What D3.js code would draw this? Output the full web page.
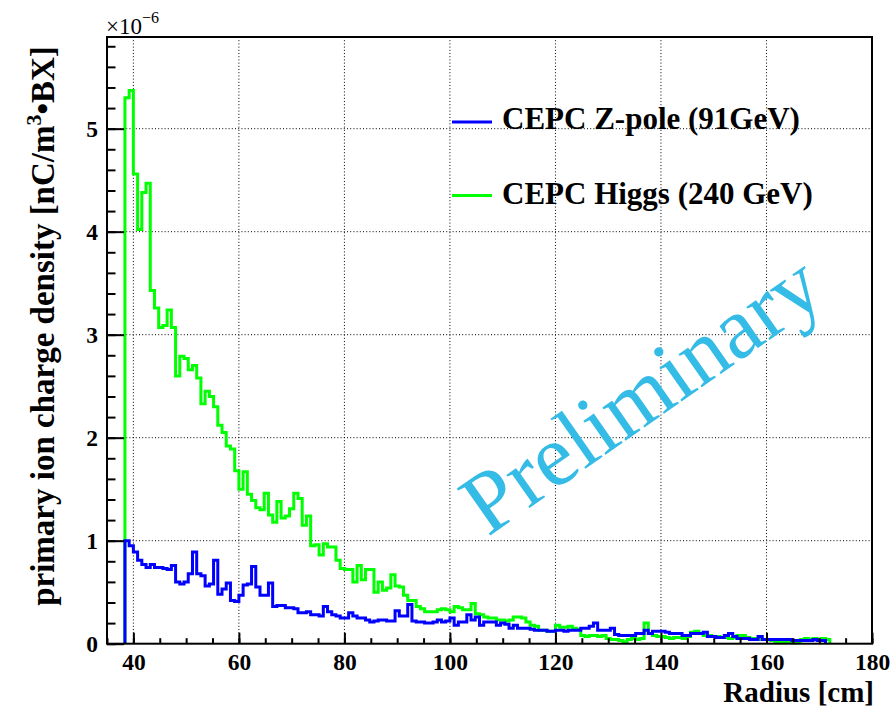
<!DOCTYPE html>
<html>
<head>
<meta charset="utf-8">
<script src="https://cdn.jsdelivr.net/npm/d3@7"></script>
<style>
  html, body { margin: 0; padding: 0; background: #fff; }
  svg { display: block; }
</style>
</head>
<body>
<svg id="chart" width="896" height="708"></svg>
<script>
// Histogram binning along the radius (cm)
const binStart = 38.4;
const binWidth = 0.8;

// Primary ion charge density per bin, in units of 1e-6 nC/m^3/BX
const zpole = [
  1.00,0.95,0.89,0.81,0.77,0.74,0.77,0.74,0.74,0.73,
  0.72,0.76,0.60,0.58,0.60,0.68,0.89,0.68,0.66,0.56,
  0.58,0.81,0.48,0.53,0.59,0.42,0.41,0.47,0.57,0.58,
  0.75,0.55,0.47,0.47,0.59,0.36,0.37,0.37,0.35,0.35,
  0.34,0.30,0.30,0.31,0.28,0.28,0.27,0.36,0.31,0.28,
  0.27,0.25,0.25,0.30,0.27,0.25,0.25,0.23,0.21,0.22,
  0.23,0.23,0.22,0.22,0.32,0.27,0.27,0.38,0.22,0.21,
  0.21,0.20,0.20,0.21,0.23,0.21,0.22,0.25,0.18,0.21,
  0.21,0.28,0.23,0.26,0.18,0.21,0.21,0.21,0.18,0.20,
  0.19,0.15,0.18,0.15,0.15,0.15,0.14,0.13,0.13,0.13,
  0.12,0.12,0.13,0.13,0.12,0.13,0.13,0.13,0.15,0.15,
  0.17,0.20,0.13,0.13,0.13,0.15,0.09,0.08,0.08,0.08,
  0.08,0.10,0.10,0.13,0.10,0.12,0.12,0.12,0.11,0.10,
  0.10,0.10,0.08,0.08,0.10,0.10,0.10,0.11,0.07,0.07,
  0.06,0.06,0.08,0.10,0.07,0.05,0.05,0.05,0.04,0.04,
  0.07,0.04,0.04,0.04,0.04,0.04,0.04,0.04,0.03,0.03,
  0.03,0.03,0.03,0.04,0.03,0.03
];

const higgs = [
  5.30,5.37,4.56,4.02,4.38,4.47,3.43,3.26,3.07,3.09,
  3.24,3.07,2.60,2.79,2.77,2.66,2.70,2.58,2.33,2.45,
  2.40,2.30,2.12,2.05,1.92,1.89,1.68,1.50,1.67,1.45,
  1.39,1.32,1.30,1.46,1.25,1.18,1.38,1.22,1.24,1.31,
  1.46,1.41,1.15,1.24,0.95,0.96,0.86,0.97,0.94,0.94,
  0.81,0.73,0.72,0.72,0.60,0.76,0.62,0.72,0.72,0.50,
  0.60,0.52,0.54,0.67,0.56,0.55,0.47,0.42,0.42,0.36,
  0.34,0.31,0.31,0.31,0.33,0.34,0.33,0.31,0.36,0.35,
  0.33,0.33,0.39,0.29,0.28,0.26,0.25,0.25,0.23,0.23,
  0.22,0.23,0.26,0.26,0.25,0.21,0.18,0.17,0.13,0.13,
  0.12,0.12,0.18,0.16,0.16,0.17,0.15,0.14,0.08,0.07,
  0.08,0.08,0.07,0.08,0.05,0.04,0.04,0.03,0.02,0.04,
  0.05,0.04,0.05,0.20,0.10,0.08,0.07,0.07,0.06,0.05,
  0.06,0.06,0.05,0.07,0.11,0.12,0.10,0.08,0.08,0.07,
  0.07,0.06,0.06,0.05,0.06,0.08,0.08,0.06,0.05,0.05,
  0.04,0.04,0.04,0.03,0.02,0.02,0.02,0.02,0.01,0.02,
  0.04,0.05,0.04,0.05,0.04,0.05,0.04
];

const seriesNames  = ["CEPC Z-pole (91GeV)", "CEPC Higgs (240 GeV)"];
const seriesColors = ["#0000ff", "#00ff00"];

const xTicks = [40, 60, 80, 100, 120, 140, 160, 180];
const xMinorTicks = d3.range(35, 180.1, 5);
const yTicks = [0, 1, 2, 3, 4, 5];
const yMinorTicks = d3.range(0, 5.81, 0.2);

const xDomain = [35, 180];
const yDomain = [0, 5.89];

// Frame geometry
const frame = { left: 107, right: 872, top: 37, bottom: 643.7 };

const svg = d3.select("#chart");
const serif = "'Liberation Serif', 'Times New Roman', Times, serif";

const x = d3.scaleLinear().domain(xDomain).range([frame.left, frame.right]);
const y = d3.scaleLinear().domain(yDomain).range([frame.bottom, frame.top]);

// Dotted grid at major ticks
const grid = svg.append("g").attr("stroke", "#000").attr("stroke-width", 1)
  .attr("stroke-dasharray", "1,2.2");
grid.selectAll("line.gx").data(xTicks.filter(t => t > xDomain[0] && t < xDomain[1]))
  .join("line").attr("class", "gx")
  .attr("x1", d => x(d)).attr("x2", d => x(d))
  .attr("y1", frame.top).attr("y2", frame.bottom);
grid.selectAll("line.gy").data(yTicks.filter(t => t > 0))
  .join("line").attr("class", "gy")
  .attr("x1", frame.left).attr("x2", frame.right)
  .attr("y1", d => y(d)).attr("y2", d => y(d));

// Step outline for a histogram
function stepPoints(values) {
  const pts = [[binStart, 0]];
  values.forEach((v, i) => pts.push([binStart + i * binWidth, v]));
  pts.push([binStart + values.length * binWidth, 0]);
  return pts;
}
const line = d3.line().x(d => x(d[0])).y(d => y(d[1])).curve(d3.curveStepAfter);

const plot = svg.append("g").attr("fill", "none").attr("stroke-width", 3)
  .attr("stroke-linejoin", "miter");
plot.append("path").attr("d", line(stepPoints(higgs))).attr("stroke", seriesColors[1]);
plot.append("path").attr("d", line(stepPoints(zpole))).attr("stroke", seriesColors[0]);

// Axes with ticks pointing into the frame
svg.append("g").attr("transform", `translate(0,${frame.bottom})`)
  .call(d3.axisBottom(x).tickValues(xTicks).tickSize(-11).tickPadding(10));
svg.append("g").attr("transform", `translate(0,${frame.bottom})`)
  .call(d3.axisBottom(x).tickValues(xMinorTicks).tickSize(-5.5).tickFormat(""));
svg.append("g").attr("transform", `translate(${frame.left},0)`)
  .call(d3.axisLeft(y).tickValues(yTicks).tickSize(-17).tickPadding(9).tickFormat(d3.format("d")));
svg.append("g").attr("transform", `translate(${frame.left},0)`)
  .call(d3.axisLeft(y).tickValues(yMinorTicks).tickSize(-8.5).tickFormat(""));

svg.selectAll(".domain").remove();
svg.selectAll(".tick line").attr("stroke", "#000").attr("stroke-width", 2);
svg.selectAll(".tick text").attr("font-family", serif).attr("font-weight", "bold")
  .attr("font-size", 23.5).attr("fill", "#000");

// Frame
svg.append("rect")
  .attr("x", frame.left).attr("y", frame.top)
  .attr("width", frame.right - frame.left).attr("height", frame.bottom - frame.top)
  .attr("fill", "none").attr("stroke", "#000").attr("stroke-width", 2);

// Exponent of the y axis
const expo = svg.append("text").attr("x", frame.left - 1).attr("y", 34)
  .attr("font-family", serif).attr("font-size", 23).attr("fill", "#000");
expo.append("tspan").text("\u00d710");
expo.append("tspan").attr("dy", -11).attr("font-size", 16).text("\u22126");

// Axis titles
svg.append("text")
  .attr("x", frame.right + 2).attr("y", 701.5)
  .attr("text-anchor", "end")
  .attr("font-family", serif).attr("font-weight", "bold").attr("font-size", 29)
  .text("Radius [cm]");

const yTitle = svg.append("text")
  .attr("transform", "translate(54,326) rotate(-90)")
  .attr("text-anchor", "middle")
  .attr("font-family", serif).attr("font-weight", "bold").attr("font-size", 33);
yTitle.append("tspan").text("primary ion charge density [nC/m");
yTitle.append("tspan").attr("dy", -13).attr("font-size", 22).text("3");
yTitle.append("tspan").attr("dy", 13).text("\u2022BX]");

// Legend
const legend = svg.append("g");
const legendRows = [
  { name: seriesNames[0], color: seriesColors[0], ly: 122, ty: 129 },
  { name: seriesNames[1], color: seriesColors[1], ly: 195.5, ty: 203.5 }
];
legendRows.forEach(r => {
  legend.append("line").attr("x1", 452).attr("x2", 492)
    .attr("y1", r.ly).attr("y2", r.ly)
    .attr("stroke", r.color).attr("stroke-width", 3);
  legend.append("text").attr("x", 502).attr("y", r.ty)
    .attr("font-family", serif).attr("font-weight", "bold").attr("font-size", 31)
    .attr("fill", "#000").text(r.name);
});

// Watermark
svg.append("text")
  .attr("transform", "translate(658,418) rotate(-35)")
  .attr("text-anchor", "middle")
  .attr("font-family", serif).attr("font-size", 88)
  .attr("fill", "#35bce6")
  .text("Preliminary");
</script>
</body>
</html>
